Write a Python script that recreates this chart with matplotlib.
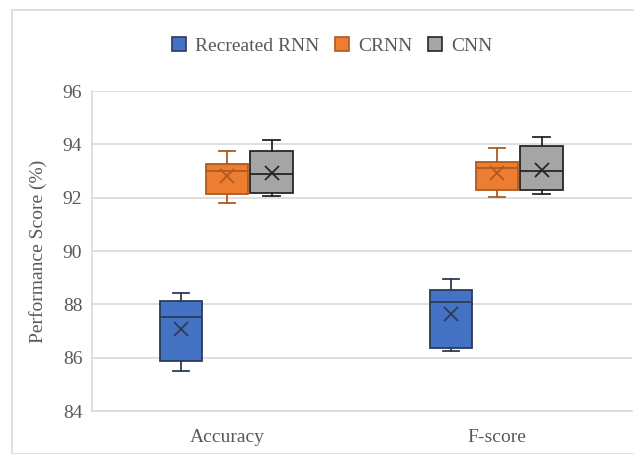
import matplotlib.pyplot as plt
from matplotlib.patches import Patch, Rectangle

# values (box plot summary per model)
categories = ['Accuracy', 'F-score']
models = ['Recreated RNN', 'CRNN', 'CNN']

whislo = {'Recreated RNN': [85.49, 86.25], 'CRNN': [91.79, 92.02], 'CNN': [92.06, 92.13]}
q1 = {'Recreated RNN': [85.89, 86.35], 'CRNN': [92.14, 92.29], 'CNN': [92.19, 92.30]}
med = {'Recreated RNN': [87.52, 88.07], 'CRNN': [93.00, 93.12], 'CNN': [92.89, 93.00]}
q3 = {'Recreated RNN': [88.14, 88.54], 'CRNN': [93.28, 93.33], 'CNN': [93.74, 93.92]}
whishi = {'Recreated RNN': [88.43, 88.95], 'CRNN': [93.74, 93.86], 'CNN': [94.15, 94.27]}
mean = {'Recreated RNN': [87.08, 87.64], 'CRNN': [92.80, 92.91], 'CNN': [92.93, 93.03]}

fills = {'Recreated RNN': '#4472C4', 'CRNN': '#ED7D31', 'CNN': '#A5A5A5'}
edges = {'Recreated RNN': '#2E3B55', 'CRNN': '#AE5A21', 'CNN': '#262626'}
offsets = {'Recreated RNN': -0.17, 'CRNN': 0.0, 'CNN': 0.165}

text_color = '#595959'
fs = 14
plt.rcParams['font.family'] = ['Liberation Serif', 'DejaVu Serif']

fig = plt.figure(figsize=(6.34, 4.54), dpi=100)
W, H = 634, 454
# outer chart border like the Excel chart frame
fig.patches.append(Rectangle((12 / W, 0), 1.0, 1 - 10 / H, transform=fig.transFigure,
                             fill=False, edgecolor='#D9D9D9', linewidth=1.2))

ax = fig.add_axes([92 / W, 1 - 411 / H, 540 / W, 320 / H])

for m in models:
    stats = []
    for i in range(len(categories)):
        stats.append({'whislo': whislo[m][i], 'q1': q1[m][i], 'med': med[m][i],
                      'q3': q3[m][i], 'whishi': whishi[m][i], 'mean': mean[m][i],
                      'fliers': []})
    pos = [i + 1 + offsets[m] for i in range(len(categories))]
    e = edges[m]
    ax.bxp(stats, positions=pos, widths=0.157, patch_artist=True, showmeans=True,
           showfliers=False, manage_ticks=False,
           boxprops=dict(facecolor=fills[m], edgecolor=e, linewidth=1.3),
           medianprops=dict(color=e, linewidth=1.3),
           whiskerprops=dict(color=e, linewidth=1.3),
           capprops=dict(color=e, linewidth=1.3),
           capwidths=0.06,
           meanprops=dict(marker='x', markeredgecolor=e, markersize=10, markeredgewidth=1.3))

ax.set_xlim(0.5, 2.5)
ax.set_ylim(84, 96)
ax.set_yticks([84, 86, 88, 90, 92, 94, 96])
ax.set_xticks([1, 2])
ax.set_xticklabels(categories)
ax.yaxis.grid(True, color='#D9D9D9', linewidth=1.2)
ax.set_axisbelow(True)
for s in ['top', 'right']:
    ax.spines[s].set_visible(False)
ax.spines['left'].set_color('#D9D9D9')
ax.spines['bottom'].set_color('#D9D9D9')
ax.spines['left'].set_linewidth(1.2)
ax.spines['bottom'].set_linewidth(1.2)
ax.tick_params(axis='both', length=0, labelsize=fs, labelcolor=text_color)
ax.tick_params(axis='y', pad=7)
ax.tick_params(axis='x', pad=13)
ax.set_ylabel('Performance Score (%)', fontsize=fs, color=text_color, labelpad=11)

handles = [Patch(facecolor=fills[m], edgecolor=edges[m], linewidth=1.2) for m in models]
fig.legend(handles, models, loc='center', bbox_to_anchor=(332 / W, 1 - 46 / H), ncol=3,
           frameon=False, fontsize=fs, labelcolor=text_color, handlelength=0.75,
           handleheight=0.75, handletextpad=0.45, columnspacing=0.8)

fig.savefig('out.png', dpi=100)
